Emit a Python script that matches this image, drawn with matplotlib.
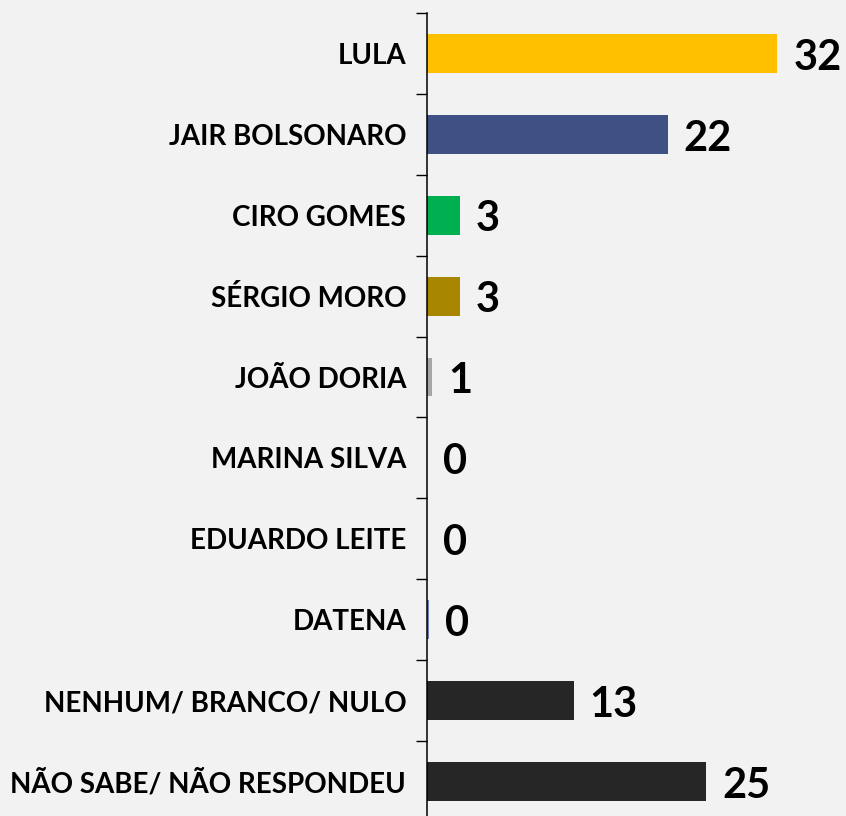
import matplotlib
matplotlib.use('Agg')
import matplotlib.pyplot as plt
import numpy as np

# data
categories = ['LULA', 'JAIR BOLSONARO', 'CIRO GOMES', 'SÉRGIO MORO', 'JOÃO DORIA',
              'MARINA SILVA', 'EDUARDO LEITE', 'DATENA', 'NENHUM/ BRANCO/ NULO',
              'NÃO SABE/ NÃO RESPONDEU']
values = [32, 22, 3, 3, 0.5, 0, 0, 0.2, 13.4, 25.5]
value_labels = ['32', '22', '3', '3', '1', '0', '0', '0', '13', '25']
colors = ['#FFC000', '#3E5084', '#00B050', '#A98600', '#A6A6A6',
          '#3E5084', '#3E5084', '#6B7DB3', '#262626', '#262626']

bg = '#F2F2F2'
plt.rcParams['font.family'] = ['Lato', 'DejaVu Sans']

fig = plt.figure(figsize=(8.46, 8.16), dpi=100, facecolor=bg)
ax = fig.add_axes([427 / 846, 1 - 822 / 816, 419 / 846, 809 / 816])
ax.set_facecolor(bg)

y = np.arange(len(categories))
ax.barh(y, values, height=0.48, color=colors)

ax.set_ylim(len(categories) - 0.5, -0.5)
ax.set_xlim(0, 419 / 10.95)

for sp in ['top', 'right', 'bottom']:
    ax.spines[sp].set_visible(False)
ax.spines['left'].set_linewidth(1.1)
ax.spines['left'].set_color('black')
ax.set_xticks([])

ax.set_yticks(y)
ax.set_yticklabels(categories, fontsize=20, fontweight='bold')
ax.tick_params(axis='y', which='major', length=0, pad=15)
ax.set_yticks(np.arange(-0.5, len(categories), 1), minor=True)
ax.tick_params(axis='y', which='minor', length=8, width=1.0, color='black')

for yi, v, lab in zip(y, values, value_labels):
    ax.annotate(lab, (v, yi), xytext=(11.5, -3), textcoords='offset points',
                ha='left', va='center', fontsize=30, fontweight='bold',
                color='black', annotation_clip=False)

fig.savefig('out.png', dpi=100, facecolor=bg)
